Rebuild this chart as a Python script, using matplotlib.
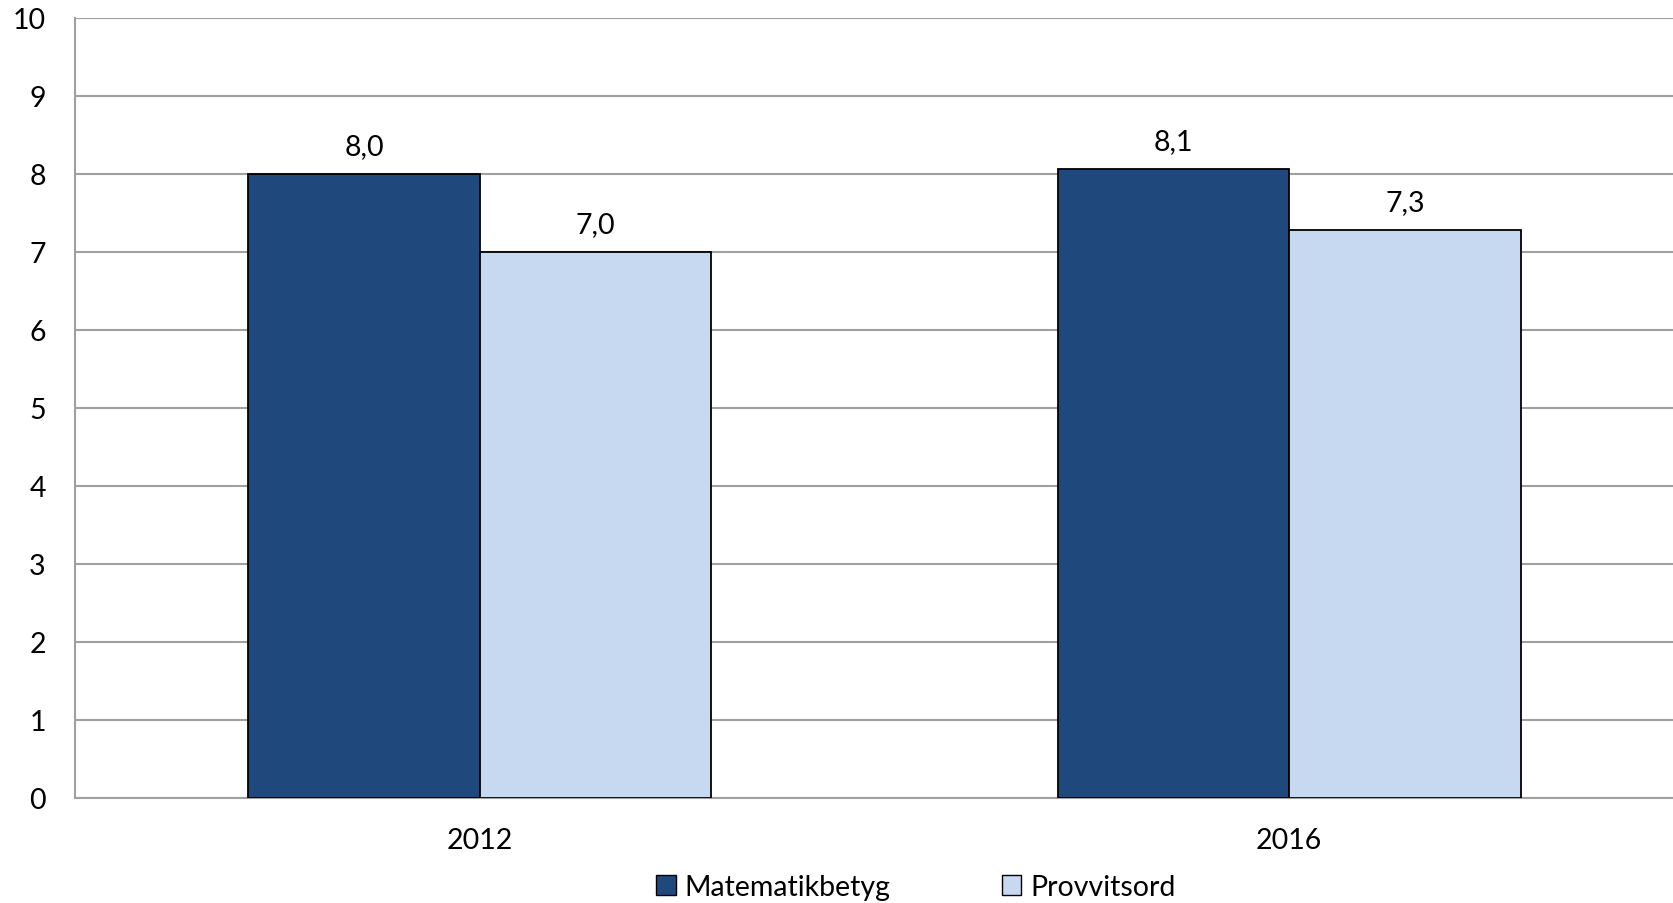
import matplotlib
matplotlib.use("Agg")
import matplotlib.pyplot as plt
import numpy as np
from matplotlib.patches import Patch

plt.rcParams['font.family'] = ['Lato', 'DejaVu Sans']

years = ["2012", "2016"]
series_names = ["Matematikbetyg", "Provvitsord"]
matematikbetyg = [8.0, 8.06]
provvitsord = [7.0, 7.28]
colors = ["#1F497D", "#C6D9F1"]

fig = plt.figure(figsize=(16.74, 9.04), dpi=100)
ax = fig.add_axes([75/1674, 1-799/904, (1694-75)/1674, (799-19)/904])

x = np.arange(len(years))
w = 0.286
for i, (vals, col) in enumerate(zip([matematikbetyg, provvitsord], colors)):
    pos = x + (i - 0.5) * w
    bars = ax.bar(pos, vals, width=w, color=col, edgecolor="black", linewidth=1.3, zorder=3)
    for b, v in zip(bars, vals):
        ax.annotate(f"{v:.1f}".replace(".", ","), (b.get_x() + b.get_width()/2, v),
                    xytext=(0, 11), textcoords="offset points", ha="center", va="bottom",
                    fontsize=20.5, color="black")

ax.set_xlim(-0.5, 1.5)
ax.set_ylim(0, 10)
ax.set_yticks(range(0, 11))
ax.set_xticks(x)
ax.set_xticklabels(years)
ax.tick_params(axis="both", length=0, labelsize=20.5, colors="black")
ax.tick_params(axis="y", pad=21)
ax.tick_params(axis="x", pad=21)
ax.grid(axis="y", color="#A0A0A0", linewidth=1.5, zorder=0)
for s in ["top", "right"]:
    ax.spines[s].set_visible(False)
for s in ["left", "bottom"]:
    ax.spines[s].set_color("#A0A0A0")
    ax.spines[s].set_linewidth(1.5)

handles = [Patch(facecolor=c, edgecolor="black", linewidth=1.0) for c in colors]
fig.legend(handles, series_names, loc="center", bbox_to_anchor=(0.547, 1-888/904),
           ncol=2, frameon=False, fontsize=20.5, handlelength=0.7, handleheight=0.7,
           handletextpad=0.3, columnspacing=3.9, borderaxespad=0)

fig.savefig("out.png", dpi=100)
